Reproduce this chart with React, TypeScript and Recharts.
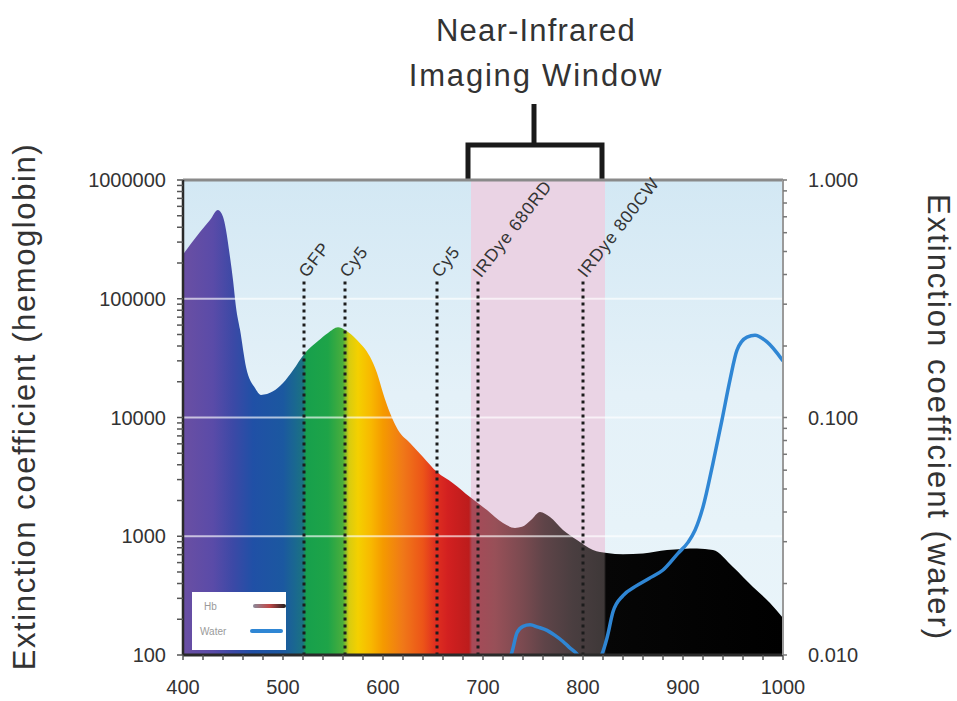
import React from 'react';
import {
  ComposedChart,
  Area,
  Line,
  XAxis,
  YAxis,
  CartesianGrid,
  ReferenceArea,
  ReferenceLine,
  Legend,
} from 'recharts';

// ---------- data ----------
const hbWavelengths = [
  400, 417, 427, 435, 440, 443, 447, 450, 453, 457, 463, 472, 478, 490, 500, 510, 522, 535, 545, 555,
  562, 574, 587, 594, 600, 607, 615, 627, 640, 654, 670, 687, 704, 720, 732, 739, 748, 757, 767, 780,
  794, 810, 824, 840, 860, 884, 914, 930, 950, 970, 987, 1000,
];
const hbValues = [
  236000, 365000, 460000, 560000, 490000, 380000, 225000, 144000, 85000, 55000, 26600, 17700, 15500,
  16600, 19500, 25000, 34900, 44000, 51500, 57500, 54600, 45000, 32400, 23700, 16100, 10900, 7850,
  6100, 4650, 3470, 2800, 2140, 1660, 1290, 1175, 1200, 1370, 1600, 1450, 1130, 930, 765, 723, 705,
  715, 765, 790, 765, 551, 374, 274, 205,
];

const waterWavelengths = [
  710, 722, 729, 734, 740, 747, 755, 764, 772, 780, 786, 792, 800, 808, 815, 819, 824, 830, 840, 852,
  866, 880, 895, 905, 912, 920, 930, 939, 947, 954, 964, 972, 984, 1000,
];
const waterValues = [
  0.008, 0.009, 0.0103, 0.0124, 0.0132, 0.0134, 0.0131, 0.0127, 0.0121, 0.0114, 0.0108, 0.0103,
  0.0095, 0.0092, 0.0095, 0.0101, 0.0118, 0.0152, 0.0178, 0.0194, 0.021, 0.0228, 0.0268, 0.0298,
  0.0335, 0.042, 0.0643, 0.0977, 0.144, 0.192, 0.218, 0.222, 0.208, 0.173,
];

const dyeNames = ['GFP', 'Cy5', 'Cy5', 'IRDye 680RD', 'IRDye 800CW'];
const dyeWavelengths = [521, 562, 654, 695, 800];
const dyeLineTop = 140000;

const windowRange = [688, 822];
const windowTitle = ['Near-Infrared', 'Imaging Window'];

const xTicks = [
  400, 420, 440, 460, 480, 500, 520, 540, 560, 580, 600, 620, 640, 660, 680, 700, 720, 740, 760, 780,
  800, 820, 840, 860, 880, 900, 920, 940, 960, 980, 1000,
];
const hbTicks = [
  100, 200, 300, 400, 500, 600, 700, 800, 900, 1000, 2000, 3000, 4000, 5000, 6000, 7000, 8000, 9000,
  10000, 20000, 30000, 40000, 50000, 60000, 70000, 80000, 90000, 100000, 200000, 300000, 400000,
  500000, 600000, 700000, 800000, 900000, 1000000,
];
const waterTicks = [
  0.01, 0.02, 0.03, 0.04, 0.05, 0.06, 0.07, 0.08, 0.09, 0.1, 0.2, 0.3, 0.4, 0.5, 0.6, 0.7, 0.8, 0.9, 1,
];
const hbGridValues = [100000, 10000, 1000];
const legendItems = ['Hb', 'Water'];

const leftTitle = 'Extinction coefficient (hemoglobin)';
const rightTitle = 'Extinction coefficient (water)';

// ---------- styles ----------
const spectrumStops: [number, string][] = [
  [400, '#6a4fa3'],
  [430, '#5a4ba8'],
  [450, '#3c49a6'],
  [470, '#2050a6'],
  [500, '#1b58a0'],
  [512, '#1a6890'],
  [520, '#1b7282'],
  [523, '#17a04c'],
  [545, '#1ea448'],
  [560, '#4aae3c'],
  [566, '#d8cc10'],
  [575, '#f4d000'],
  [588, '#f8b800'],
  [600, '#f59a00'],
  [620, '#f07818'],
  [640, '#ec5418'],
  [652, '#e03020'],
  [665, '#d22020'],
  [686, '#bc1c1c'],
  [689, '#a84a58'],
  [712, '#985058'],
  [740, '#7a4a50'],
  [762, '#5e4448'],
  [790, '#4a3e40'],
  [821, '#3e3838'],
  [823, '#060606'],
  [1000, '#000000'],
];

const FONT = '"Liberation Sans", Arial, Helvetica, sans-serif';
const TEXT = '#333333';

const isDecade = (v: number) => Math.abs(Math.log10(v) - Math.round(Math.log10(v))) < 1e-9;

const hbData = hbWavelengths.map((w, i) => ({ wl: w, hb: hbValues[i] }));
const waterData = waterWavelengths.map((w, i) => ({ wl: w, water: waterValues[i] }));

const makeDyeLabel = (text: string) => (props: any) => {
  const vb = props.viewBox || {};
  const x = (vb.x ?? 0) + 3;
  const y = (vb.y ?? 0) - 3;
  return (
    <text
      x={x}
      y={y}
      transform={`rotate(-52 ${x} ${y})`}
      fontSize={17.5}
      letterSpacing={0.8}
      fill={TEXT}
      fontFamily={FONT}
    >
      {text}
    </text>
  );
};

const WindowLabel = (props: any) => {
  const vb = props.viewBox || {};
  const x = vb.x ?? 0;
  const y = vb.y ?? 0;
  const w = vb.width ?? 0;
  const cx = x + w / 2 - 4;
  return (
    <g>
      <path
        d={`M${x - 3},${y - 1} V${y - 35} H${x + w - 3} V${y - 1}`}
        stroke="#1a1a1a"
        strokeWidth={5}
        fill="none"
      />
      <line x1={cx} x2={cx} y1={y - 35} y2={y - 76} stroke="#1a1a1a" strokeWidth={5} />
      <text x={cx + 2} y={y - 139} textAnchor="middle" fontSize={31} letterSpacing={1.2} fill={TEXT} fontFamily={FONT}>
        {windowTitle[0]}
      </text>
      <text x={cx + 2} y={y - 94} textAnchor="middle" fontSize={31} letterSpacing={1.8} fill={TEXT} fontFamily={FONT}>
        {windowTitle[1]}
      </text>
    </g>
  );
};

const LeftTitle = (props: any) => {
  const vb = props.viewBox || {};
  const x = 24;
  const y = (vb.y ?? 180) + (vb.height ?? 475) / 2 - 11;
  return (
    <text
      x={x}
      y={y}
      transform={`rotate(-90 ${x} ${y})`}
      textAnchor="middle"
      dominantBaseline="central"
      fontSize={31}
      letterSpacing={1.6}
      fill={TEXT}
      fontFamily={FONT}
    >
      {leftTitle}
    </text>
  );
};

const RightTitle = (props: any) => {
  const vb = props.viewBox || {};
  const x = (vb.x ?? 783) + 155;
  const y = (vb.y ?? 180) + (vb.height ?? 475) / 2;
  return (
    <text
      x={x}
      y={y}
      transform={`rotate(90 ${x} ${y})`}
      textAnchor="middle"
      dominantBaseline="central"
      fontSize={31}
      letterSpacing={2}
      fill={TEXT}
      fontFamily={FONT}
    >
      {rightTitle}
    </text>
  );
};

const LegendBox = () => (
  <div
    style={{
      width: 94,
      height: 58,
      background: '#ffffff',
      position: 'relative',
      fontFamily: FONT,
      fontSize: 10,
      color: '#9a9a9a',
    }}
  >
    {legendItems.map((name, i) => (
      <div
        key={name}
        style={{
          position: 'absolute',
          left: 0,
          top: 6 + i * 25,
          width: 94,
          height: 16,
          display: 'flex',
          alignItems: 'center',
        }}
      >
        <span style={{ width: 50, paddingLeft: i === 0 ? 12 : 8 }}>{name}</span>
        <span
          style={{
            display: 'inline-block',
            width: 33,
            height: 4,
            borderRadius: 2,
            background:
              i === 0
                ? 'linear-gradient(to right, #8a8a9a, #c04848, #1e1e1e)'
                : '#2f86d4',
          }}
        />
      </div>
    ))}
  </div>
);

export default function App() {
  return (
    <div style={{ position: 'absolute', left: 0, top: 0, width: 957, height: 701, background: '#ffffff', fontFamily: FONT }}>
      <ComposedChart width={957} height={701} margin={{ top: 180, right: 0, bottom: 0, left: 0 }}>
        <defs>
          <linearGradient id="spectrum" x1="0" y1="0" x2="1" y2="0">
            {spectrumStops.map(([nm, c], i) => (
              <stop key={i} offset={(nm - 400) / 600} stopColor={c} />
            ))}
          </linearGradient>
          <linearGradient id="bgGrad" x1="0" y1="0" x2="0" y2="1">
            <stop offset="0" stopColor="#d3e8f4" />
            <stop offset="0.45" stopColor="#e4f1f8" />
            <stop offset="1" stopColor="#eaf5fa" />
          </linearGradient>
        </defs>
        <CartesianGrid horizontal={false} vertical={false} fill="url(#bgGrad)" fillOpacity={1} yAxisId="left" />
        <XAxis
          dataKey="wl"
          type="number"
          domain={[400, 1000]}
          ticks={xTicks}
          allowDataOverflow
          height={46}
          tickFormatter={(v: number) => (v % 100 === 0 ? String(v) : '')}
          tick={{ fontSize: 20, fill: TEXT, fontFamily: FONT }}
          tickSize={5}
          tickMargin={20}
          tickLine={{ stroke: '#555', strokeWidth: 1.5 }}
          axisLine={{ stroke: '#2a2a2a', strokeWidth: 3 }}
          interval={0}
        />
        <YAxis
          yAxisId="left"
          orientation="left"
          type="number"
          scale="log"
          domain={[100, 1000000]}
          ticks={hbTicks}
          allowDataOverflow
          width={183}
          interval={0}
          tickFormatter={(v: number) => (isDecade(v) ? String(v) : '')}
          tick={{ fontSize: 20, fill: TEXT, fontFamily: FONT }}
          tickSize={6}
          tickMargin={11}
          tickLine={{ stroke: '#555', strokeWidth: 1.5 }}
          axisLine={{ stroke: '#2a2a2a', strokeWidth: 2.5 }}
          label={{ content: LeftTitle }}
        />
        <YAxis
          yAxisId="right"
          orientation="right"
          type="number"
          scale="log"
          domain={[0.01, 1]}
          ticks={waterTicks}
          allowDataOverflow
          width={174}
          interval={0}
          tickFormatter={(v: number) => (isDecade(v) ? v.toFixed(3) : '')}
          tick={{ fontSize: 20, fill: TEXT, fontFamily: FONT }}
          tickSize={4}
          tickMargin={21}
          tickLine={{ stroke: '#777', strokeWidth: 1.5 }}
          axisLine={{ stroke: '#9a9a9a', strokeWidth: 2 }}
          label={{ content: RightTitle }}
        />
        <ReferenceArea
          yAxisId="left"
          x1={windowRange[0]}
          x2={windowRange[1]}
          fill="#ead3e4"
          fillOpacity={1}
          stroke="none"
          label={{ content: WindowLabel } as any}
          {...({ zIndex: -50 } as any)}
        />
        <Area
          data={hbData}
          dataKey="hb"
          name="Hb"
          yAxisId="left"
          type="monotone"
          stroke="none"
          fill="url(#spectrum)"
          fillOpacity={1}
          baseValue={100}
          isAnimationActive={false}
          dot={false}
          activeDot={false}
        />
        {hbGridValues.map((v) => (
          <ReferenceLine key={v} yAxisId="left" y={v} stroke="#ffffff" strokeOpacity={0.65} strokeWidth={2} />
        ))}
        <ReferenceLine yAxisId="left" y={1000000} stroke="#8a8a8a" strokeWidth={3} />
        {dyeNames.map((name, i) => (
          <ReferenceLine
            key={i}
            yAxisId="left"
            segment={[
              { x: dyeWavelengths[i], y: dyeLineTop },
              { x: dyeWavelengths[i], y: 100 },
            ]}
            stroke="#1c1c1c"
            strokeWidth={3}
            strokeDasharray="3 4"
            label={makeDyeLabel(name) as any}
          />
        ))}
        <Line
          data={waterData}
          dataKey="water"
          name="Water"
          yAxisId="right"
          type="monotone"
          stroke="#2f86d4"
          strokeWidth={3.5}
          dot={false}
          activeDot={false}
          isAnimationActive={false}
        />
        <Legend
          layout="vertical"
          align="center"
          verticalAlign="middle"
          content={() => <LegendBox />}
          wrapperStyle={{ left: 192, top: 592, width: 94, height: 58 }}
        />
      </ComposedChart>
    </div>
  );
}
